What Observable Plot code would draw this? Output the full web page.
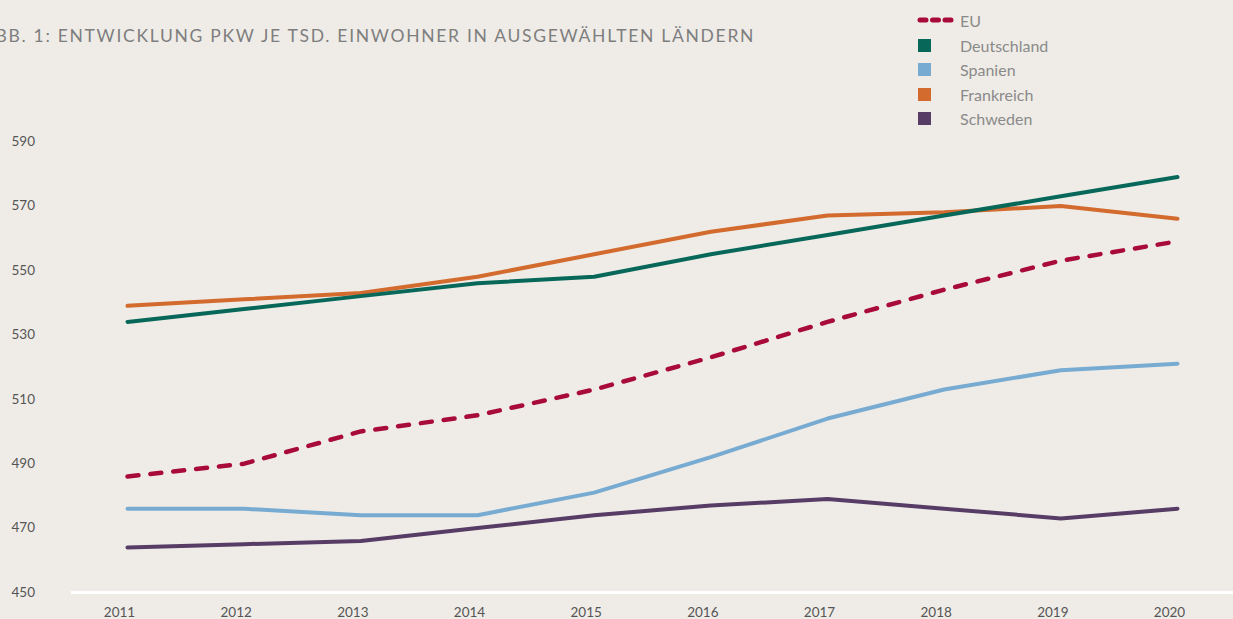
<!DOCTYPE html>
<html><head><meta charset="utf-8">
<script src="https://cdn.jsdelivr.net/npm/d3@7"></script>
<script src="https://cdn.jsdelivr.net/npm/@observablehq/plot@0.6"></script>
<style>
body{margin:0;background:#efece7;}
#wrap{position:relative;width:1233px;height:619px;overflow:hidden;background:#efece7;font-family:Lato,"Open Sans",sans-serif;}
#title{position:absolute;left:-18px;top:25px;font-size:17.5px;color:#7e7e7e;white-space:nowrap;letter-spacing:1.7px;}
.lg{position:absolute;left:917px;height:20px;display:flex;align-items:center;font-size:16px;color:#8a8a8a;white-space:nowrap;}
.sw{display:inline-block;width:13px;height:13px;margin-right:29px;margin-left:1px;}
#chart{position:absolute;left:0;top:0;}
</style></head>
<body>
<div id="wrap">
<div id="chart"></div>
<div id="title">ABB. 1: ENTWICKLUNG PKW JE TSD. EINWOHNER IN AUSGEWÄHLTEN LÄNDERN</div>
<div id="legend"></div>
</div>
<script>
const years = [2011, 2012, 2013, 2014, 2015, 2016, 2017, 2018, 2019, 2020];
const eu = [486, 490, 500, 505, 513, 523, 534, 544, 553, 559];
const deutschland = [534, 538, 542, 546, 548, 555, 561, 567, 573, 579];
const spanien = [476, 476, 474, 474, 481, 492, 504, 513, 519, 521];
const frankreich = [539, 541, 543, 548, 555, 562, 567, 568, 570, 566];
const schweden = [464, 465, 466, 470, 474, 477, 479, 476, 473, 476];
const yTicks = [450, 470, 490, 510, 530, 550, 570, 590];

const seriesNames = ["EU", "Deutschland", "Spanien", "Frankreich", "Schweden"];
const seriesColors = ["#a80a3c", "#07685a", "#78abd1", "#d26b2d", "#573c66"];
const seriesValues = [eu, deutschland, spanien, frankreich, schweden];

const rows = [];
seriesNames.forEach((s, i) => years.forEach((yr, j) => rows.push({series: s, year: yr, value: seriesValues[i][j]})));
const colorOf = Object.fromEntries(seriesNames.map((s, i) => [s, seriesColors[i]]));
const drawOrder = ["Schweden", "Spanien", "Frankreich", "Deutschland"];

const solidMarks = drawOrder.map(s => Plot.line(rows.filter(r => r.series === s), {
  x: "year", y: "value", stroke: colorOf[s], strokeWidth: 4, strokeLinejoin: "round", strokeLinecap: "round"
}));

const chart = Plot.plot({
  width: 1233, height: 619,
  marginLeft: 71, marginRight: 0, marginTop: 141, marginBottom: 27,
  style: {background: "transparent", fontFamily: "Lato, 'Open Sans', sans-serif", fontSize: "13.5px", color: "#555"},
  x: {type: "linear", domain: [2011, 2020], range: [127, 1177]},
  y: {domain: [450, 590]},
  marks: [
    Plot.ruleY([450], {stroke: "#ffffff", strokeWidth: 3}),
    Plot.axisY({ticks: yTicks, tickSize: 0, tickPadding: 60, textAnchor: "start", label: null, fill: "#555"}),
    Plot.axisX({ticks: years, tickSize: 0, tickPadding: 15, tickFormat: d => String(d), label: null, fill: "#555", dx: -8}),
    ...solidMarks,
    Plot.line(rows.filter(r => r.series === "EU"), {
      x: "year", y: "value", stroke: colorOf["EU"], strokeWidth: 4.5, strokeDasharray: "11,12", strokeLinecap: "round", strokeLinejoin: "round"
    })
  ]
});
document.getElementById("chart").appendChild(chart);

// legend
const legend = document.getElementById("legend");
const tops = [10, 35, 59, 84, 108];
seriesNames.forEach((s, i) => {
  const d = document.createElement("div");
  d.className = "lg";
  d.style.top = tops[i] + "px";
  if (s === "EU") {
    d.innerHTML = `<svg width="42" height="10" style="margin-right:1px"><line x1="3" y1="5" x2="38" y2="5" stroke="${colorOf[s]}" stroke-width="5" stroke-dasharray="6,6.5" stroke-linecap="round"/></svg><span>${s}</span>`;
  } else {
    d.innerHTML = `<span class="sw" style="background:${colorOf[s]}"></span><span>${s}</span>`;
  }
  legend.appendChild(d);
});
</script>
</body></html>
